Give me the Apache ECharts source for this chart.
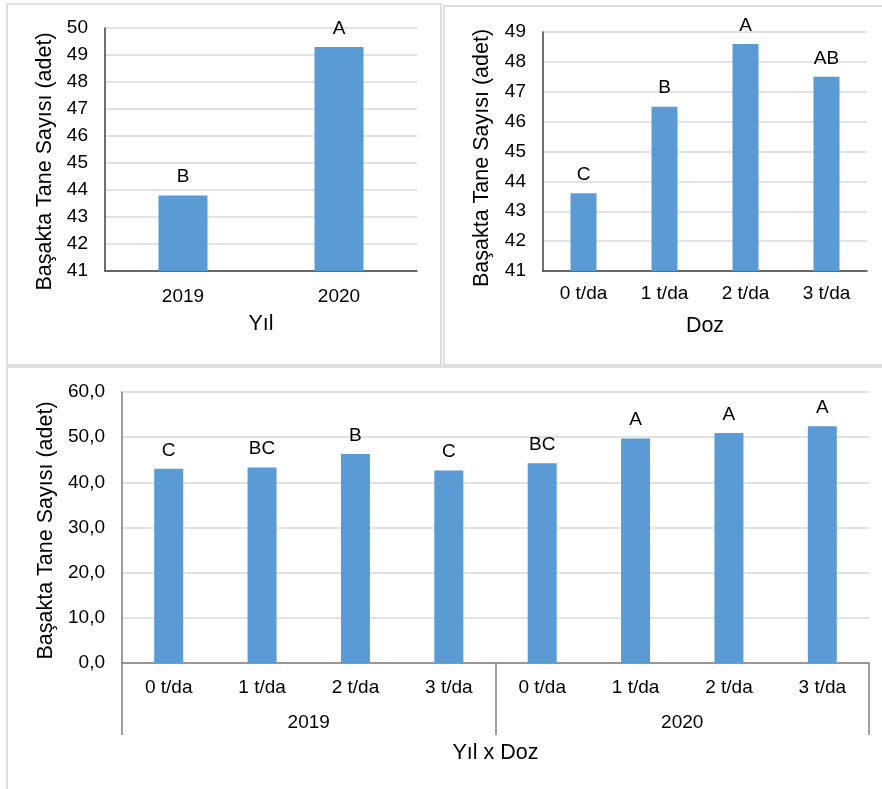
<!DOCTYPE html>
<html>
<head>
<meta charset="utf-8">
<script src="https://cdn.jsdelivr.net/npm/echarts@6/dist/echarts.min.js"></script>
<style>
html,body{margin:0;padding:0;background:#fff;}
#c{width:882px;height:789px;}
</style>
</head>
<body>
<div id="c"></div>
<script>
// Panel 1: Yıl
const yearCats = ['2019', '2020'];
const yearVals = [43.8, 49.3];
const yearLetters = ['B', 'A'];
// Panel 2: Doz
const doseCats = ['0 t/da', '1 t/da', '2 t/da', '3 t/da'];
const doseVals = [43.6, 46.5, 48.6, 47.5];
const doseLetters = ['C', 'B', 'A', 'AB'];
// Panel 3: Yıl x Doz
const comboCats = ['0 t/da', '1 t/da', '2 t/da', '3 t/da', '0 t/da', '1 t/da', '2 t/da', '3 t/da'];
const comboGroups = ['2019', '2020'];
const comboVals = [43.0, 43.3, 46.3, 42.6, 44.2, 49.7, 50.9, 52.4];
const comboLetters = ['C', 'BC', 'B', 'C', 'BC', 'A', 'A', 'A'];

const yTitle = 'Başakta Tane Sayısı (adet)';
const FONT = '"Liberation Sans", Arial, sans-serif';
const BAR = '#5b9bd5';
const GRID = '#d9d9d9';
const AX = '#404040';
const AX3 = '#7f7f7f';
const TXT = '#000';
const FS = 19;
const TFS = 21.5;

const chart = echarts.init(document.getElementById('c'), null, {renderer: 'canvas'});

function yAxis(grid, min, max, interval, gap, shift, fmt, axColor) {
  return {
    type: 'value', gridIndex: grid, min: min, max: max, interval: interval,
    name: yTitle, nameLocation: 'middle', nameGap: gap, nameRotate: 90,
    nameTextStyle: {fontFamily: FONT, fontSize: TFS, color: TXT, padding: [0, shift, 0, 0]},
    axisLine: {show: true, lineStyle: {color: axColor, width: 1.5}},
    axisTick: {show: false},
    axisLabel: {fontFamily: FONT, fontSize: FS, color: TXT, margin: 17, formatter: fmt},
    splitLine: {show: true, lineStyle: {color: GRID, width: 1.5}}
  };
}

function lab(letters) {
  return {
    show: true, position: 'top', distance: 9,
    fontFamily: FONT, fontSize: FS, color: TXT,
    formatter: p => letters[p.dataIndex]
  };
}

const option = {
  animation: false,
  backgroundColor: '#fff',
  graphic: [
    {type: 'rect', shape: {x: 7, y: 4, width: 434, height: 361}, style: {fill: 'none', stroke: '#d4d4d4', lineWidth: 1.5}},
    {type: 'rect', shape: {x: 444, y: 6, width: 445, height: 359}, style: {fill: 'none', stroke: '#d4d4d4', lineWidth: 1.5}},
    {type: 'rect', shape: {x: 7, y: 367, width: 885, height: 440}, style: {fill: 'none', stroke: '#d4d4d4', lineWidth: 1.5}}
  ],
  grid: [
    {left: 105, right: 465, top: 28, bottom: 518},
    {left: 543, right: 15, top: 32, bottom: 518},
    {left: 122, right: 13, top: 392, bottom: 126}
  ],
  xAxis: [
    {
      type: 'category', gridIndex: 0, data: yearCats,
      name: 'Yıl', nameLocation: 'middle', nameGap: 42,
      nameTextStyle: {fontFamily: FONT, fontSize: TFS, color: TXT},
      axisLine: {show: true, lineStyle: {color: AX, width: 1.5}},
      axisTick: {show: false},
      axisLabel: {fontFamily: FONT, fontSize: FS, color: TXT, margin: 16}
    },
    {
      type: 'category', gridIndex: 1, data: doseCats,
      name: 'Doz', nameLocation: 'middle', nameGap: 44,
      nameTextStyle: {fontFamily: FONT, fontSize: TFS, color: TXT},
      axisLine: {show: true, lineStyle: {color: AX, width: 1.5}},
      axisTick: {show: false},
      axisLabel: {fontFamily: FONT, fontSize: FS, color: TXT, margin: 13}
    },
    {
      type: 'category', gridIndex: 2, data: comboCats,
      axisLine: {show: true, lineStyle: {color: AX3, width: 1.5}},
      axisTick: {show: false},
      axisLabel: {fontFamily: FONT, fontSize: FS, color: TXT, margin: 15, interval: 0}
    },
    {
      type: 'category', gridIndex: 2, data: comboGroups, position: 'bottom',
      name: 'Yıl x Doz', nameLocation: 'middle', nameGap: 79,
      nameTextStyle: {fontFamily: FONT, fontSize: TFS, color: TXT},
      axisLine: {show: false},
      axisTick: {show: true, interval: 0, length: 72, lineStyle: {color: AX3, width: 1.5}},
      axisLabel: {fontFamily: FONT, fontSize: FS, color: TXT, margin: 50, interval: 0}
    }
  ],
  yAxis: [
    yAxis(0, 41, 50, 1, 49, 24, v => v, AX),
    yAxis(1, 41, 49, 1, 50, 13, v => v, AX),
    yAxis(2, 0, 60, 10, 62, 6, v => v.toFixed(1).replace('.', ','), AX3)
  ],
  series: [
    {type: 'bar', xAxisIndex: 0, yAxisIndex: 0, data: yearVals, barWidth: 49,
     itemStyle: {color: BAR}, label: lab(yearLetters)},
    {type: 'bar', xAxisIndex: 1, yAxisIndex: 1, data: doseVals, barWidth: 26,
     itemStyle: {color: BAR}, label: lab(doseLetters)},
    {type: 'bar', xAxisIndex: 2, yAxisIndex: 2, data: comboVals, barWidth: 29,
     itemStyle: {color: BAR}, label: lab(comboLetters)}
  ]
};
chart.setOption(option);
</script>
</body>
</html>
